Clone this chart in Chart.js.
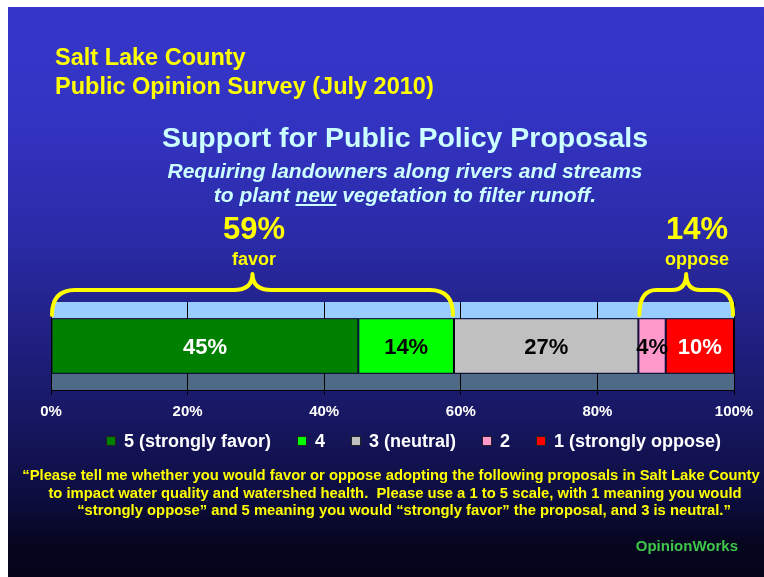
<!DOCTYPE html>
<html><head><meta charset="utf-8">
<script src="https://cdn.jsdelivr.net/npm/chart.js@4.4.1/dist/chart.umd.min.js"></script>
<style>
html,body{margin:0;padding:0;background:#fff;width:764px;height:577px;overflow:hidden;}
#slide{position:absolute;left:8px;top:7px;width:756px;height:570px;
 background:linear-gradient(to bottom,#3636cb 0%,#3333c2 20%,#2b2ba8 40%,#202082 58%,#171762 72%,#0d0d40 86%,#060620 94%,#04041a 100%);}
#wrap{position:absolute;left:0;top:0;width:764px;height:577px;}
.t{position:absolute;white-space:nowrap;font-family:'Liberation Sans',Arial,sans-serif;font-weight:bold;}
.y{color:#ffff00;}
.c{color:#ccffff;}
#legend{position:absolute;left:0;top:432px;width:827px;text-align:center;font-family:'Liberation Sans',Arial,sans-serif;font-weight:bold;font-size:18px;line-height:18px;color:#fff;white-space:nowrap;}
#legend span.it{display:inline-block;margin:0 13px;}
#legend span.sw{display:inline-block;width:8px;height:8px;border:1px solid #222;margin-right:8px;vertical-align:1px;}
</style></head>
<body>
<div id="slide"></div>
<div id="wrap"><canvas id="c" width="764" height="577"></canvas></div>
<div class="t y" style="left:55px;top:46px;font-size:23.5px;line-height:23.5px;">Salt Lake County</div>
<div class="t y" style="left:55px;top:75px;font-size:23.5px;line-height:23.5px;">Public Opinion Survey (July 2010)</div>
<div class="t c" style="left:0;width:810px;text-align:center;top:123px;font-size:28.5px;line-height:28.5px;">Support for Public Policy Proposals</div>
<div class="t c" style="left:0;width:810px;text-align:center;top:160px;font-size:21px;line-height:21px;font-style:italic;">Requiring landowners along rivers and streams</div>
<div class="t c" style="left:0;width:810px;text-align:center;top:184px;font-size:21px;line-height:21px;font-style:italic;">to plant <u>new</u> vegetation to filter runoff.</div>
<div id="favPct" class="t y" style="left:0;width:508px;text-align:center;top:213px;font-size:31px;line-height:31px;"></div>
<div class="t y" style="left:0;width:508px;text-align:center;top:250px;font-size:18px;line-height:18px;">favor</div>
<div id="oppPct" class="t y" style="left:0;width:1394px;text-align:center;top:213px;font-size:31px;line-height:31px;"></div>
<div class="t y" style="left:0;width:1394px;text-align:center;top:250px;font-size:18px;line-height:18px;">oppose</div>
<div id="legend"></div>
<div class="t y" style="left:0;width:782px;text-align:center;top:467px;font-size:14.8px;line-height:17.5px;">“Please tell me whether you would favor or oppose adopting the following proposals in Salt Lake County</div>
<div class="t y" style="left:0;width:790px;text-align:center;top:484.5px;font-size:14.8px;line-height:17.5px;">to impact water quality and watershed health.&nbsp; Please use a 1 to 5 scale, with 1 meaning you would</div>
<div class="t y" style="left:0;width:808px;text-align:center;top:502px;font-size:14.8px;line-height:17.5px;">“strongly oppose” and 5 meaning you would “strongly favor” the proposal, and 3 is neutral.”</div>
<div class="t" style="right:26px;top:538px;font-size:15px;line-height:15px;color:#3fc64a;">OpinionWorks</div>
<script>
const categories = ['Requiring landowners to plant new vegetation'];
const seriesNames = ['5 (strongly favor)', '4', '3 (neutral)', '2', '1 (strongly oppose)'];
const strongFavor = [45];
const favor = [14];
const neutral = [27];
const oppose = [4];
const strongOppose = [10];
const seriesValues = [strongFavor, favor, neutral, oppose, strongOppose];
const seriesColors = ['#008000', '#00ff00', '#c0c0c0', '#ff99cc', '#ff0000'];
const labelColors = ['#ffffff', '#000000', '#000000', '#000000', '#ffffff'];
const tickValues = [0, 20, 40, 60, 80, 100];
const favorSeries = [0, 1];
const opposeSeries = [3, 4];

const FONT = "'Liberation Sans', Arial, sans-serif";
const favorTotal = favorSeries.reduce((s, i) => s + seriesValues[i][0], 0);
const opposeTotal = opposeSeries.reduce((s, i) => s + seriesValues[i][0], 0);
document.getElementById('favPct').textContent = favorTotal + '%';
document.getElementById('oppPct').textContent = opposeTotal + '%';

const leg = document.getElementById('legend');
seriesNames.forEach((n, i) => {
  const it = document.createElement('span'); it.className = 'it';
  const sw = document.createElement('span'); sw.className = 'sw'; sw.style.background = seriesColors[i];
  it.appendChild(sw); it.appendChild(document.createTextNode(n));
  leg.appendChild(it);
});

function startOf(idx) { let s = 0; for (let i = 0; i < idx; i++) s += seriesValues[i][0]; return s; }

const bgPlugin = {
  id: 'bands',
  beforeDraw(chart) {
    const ctx = chart.ctx, a = chart.chartArea;
    const el = chart.getDatasetMeta(0).data[0];
    const top = el.y - el.height / 2, bot = el.y + el.height / 2;
    ctx.save();
    ctx.fillStyle = '#99ccff';
    ctx.fillRect(a.left, a.top, a.right - a.left, top - a.top);
    ctx.fillStyle = '#4f6a86';
    ctx.fillRect(a.left, bot, a.right - a.left, a.bottom - bot);
    ctx.restore();
  },
  afterDatasetsDraw(chart) {
    const ctx = chart.ctx;
    ctx.save();
    ctx.font = 'bold 22px ' + FONT;
    ctx.textAlign = 'center'; ctx.textBaseline = 'middle';
    chart.data.datasets.forEach((ds, i) => {
      const el = chart.getDatasetMeta(i).data[0];
      ctx.fillStyle = labelColors[i];
      ctx.fillText(ds.data[0] + '%', (el.x + el.base) / 2, el.y + 2);
    });
    ctx.restore();
  },
  afterDraw(chart) {
    const ctx = chart.ctx, a = chart.chartArea, xs = chart.scales.x;
    function brace(v0, v1, r) {
      const x0 = xs.getPixelForValue(v0), x1 = xs.getPixelForValue(v1);
      const xm = (x0 + x1) / 2;
      const yb = a.top + 13, yh = a.top - 12, yt = a.top - 28;
      ctx.beginPath();
      ctx.moveTo(x0 + 1, yb);
      ctx.quadraticCurveTo(x0 + 1, yh, x0 + r, yh);
      ctx.lineTo(xm - r * 0.8, yh);
      ctx.quadraticCurveTo(xm, yh, xm, yt);
      ctx.quadraticCurveTo(xm, yh, xm + r * 0.8, yh);
      ctx.lineTo(x1 - r, yh);
      ctx.quadraticCurveTo(x1 - 1, yh, x1 - 1, yb);
      ctx.stroke();
    }
    ctx.save();
    ctx.strokeStyle = '#ffff00'; ctx.lineWidth = 4; ctx.lineCap = 'round'; ctx.lineJoin = 'round';
    brace(startOf(favorSeries[0]), startOf(favorSeries[favorSeries.length - 1] + 1), 24);
    brace(startOf(opposeSeries[0]), startOf(opposeSeries[opposeSeries.length - 1] + 1), 18);
    ctx.restore();
  }
};

new Chart(document.getElementById('c'), {
  type: 'bar',
  data: {
    labels: categories,
    datasets: seriesNames.map((n, i) => ({
      label: n, data: seriesValues[i], backgroundColor: seriesColors[i],
      borderColor: '#000', borderWidth: 1, borderSkipped: false,
      barPercentage: 0.63, categoryPercentage: 1
    }))
  },
  options: {
    indexAxis: 'y', responsive: false, animation: false,
    layout: { padding: { left: 51, right: 30, top: 302, bottom: 148 } },
    plugins: { legend: { display: false }, tooltip: { enabled: false } },
    scales: {
      x: {
        type: 'linear', stacked: true, min: 0, max: 100,
        afterBuildTicks: s => { s.ticks = tickValues.map(v => ({ value: v })); },
        ticks: { color: '#ffffff', font: { family: FONT, size: 15, weight: 'bold' }, padding: 8, callback: v => v + '%', maxRotation: 0 },
        grid: { color: '#000000', lineWidth: 1, tickLength: 5, drawOnChartArea: true },
        border: { display: true, color: '#000000' }
      },
      y: { stacked: true, display: false }
    }
  },
  plugins: [bgPlugin]
});
</script>
</body></html>
